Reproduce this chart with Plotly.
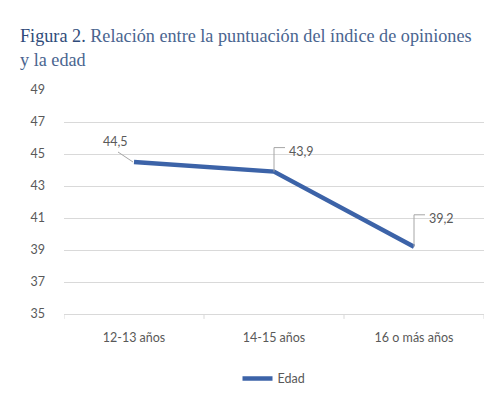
import plotly.graph_objects as go

categories = ["12-13 años", "14-15 años", "16 o más años"]
values = [44.5, 43.9, 39.2]
series_name = "Edad"
y_ticks = [35, 37, 39, 41, 43, 45, 47, 49]

line_color = "#3c63a8"
grid_color = "#d9d9d9"
text_color = "#595959"
lead_color = "#a6a6a6"

fig = go.Figure()
fig.add_trace(go.Scatter(
    x=list(range(len(categories))), y=values, mode="lines", name=series_name,
    line=dict(color=line_color, width=4.5), showlegend=True,
))

label_offsets = [(-19, 21), (27, 20), (27, 28)]
leader_paths = ["M -1,0 L -16,10", "M 0,0 L 0,24 L 11,24", "M 0,0 L 0,32 L 11,32"]
for i, v in enumerate(values):
    dx, dy = label_offsets[i]
    fig.add_annotation(x=i, y=v, xref="x", yref="y", text=f"{v:.1f}".replace(".", ","),
                       showarrow=False, xshift=dx, yshift=dy,
                       font=dict(family="Lato, Open Sans, sans-serif", size=12.5, color=text_color))
    fig.add_shape(type="path", xref="x", yref="y", xsizemode="pixel", ysizemode="pixel",
                  xanchor=i, yanchor=v, path=leader_paths[i],
                  line=dict(color=lead_color, width=1))

fig.add_annotation(
    x=0, xref="paper", xanchor="left", y=1, yref="paper", yanchor="bottom",
    xshift=-46, yshift=18, align="left", showarrow=False,
    text="<span style='color:#2f4b7a'>Figura 2.</span> Relación entre la puntuación del índice de opiniones<br>y la edad",
    font=dict(family="Liberation Serif, serif", size=18.2, color="#4a6590"),
)

fig.update_layout(
    width=500, height=397,
    margin=dict(l=64, r=16, t=90, b=83, autoexpand=False),
    paper_bgcolor="white", plot_bgcolor="white",
    showlegend=True,
    legend=dict(orientation="h", x=0.5, xanchor="center", y=-0.29, yanchor="middle",
                font=dict(family="Lato, Open Sans, sans-serif", size=12.5, color=text_color)),
    xaxis=dict(
        tickmode="array", tickvals=list(range(len(categories))), ticktext=categories,
        range=[-0.5, len(categories) - 0.5], automargin=False,
        showgrid=False, zeroline=False, showline=True, linecolor=grid_color, linewidth=1,
        ticks="", ticklabelstandoff=12,
        tickfont=dict(family="Lato, Open Sans, sans-serif", size=12.5, color=text_color),
    ),
    yaxis=dict(
        range=[35, 49], tickvals=y_ticks, showgrid=True, gridcolor=grid_color, gridwidth=1,
        zeroline=False, showline=False, ticks="", ticklabelstandoff=18, automargin=False,
        tickfont=dict(family="Lato, Open Sans, sans-serif", size=12.5, color=text_color),
    ),
)

for b in [-0.5, 0.5, 1.5, 2.5]:
    fig.add_shape(type="line", xref="x", yref="paper", x0=b, x1=b, y0=0, y1=-0.022,
                  line=dict(color=grid_color, width=1))

fig.write_html("out.html", config={"displayModeBar": False},
               post_script="document.body.style.margin='0';")
